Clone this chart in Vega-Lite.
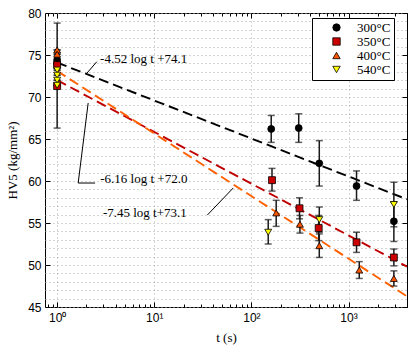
{
  "$schema": "https://vega.github.io/schema/vega-lite/v6.json",
  "width": 362,
  "height": 294,
  "autosize": {"type": "none"},
  "padding": {"left": 45, "top": 13, "right": 8, "bottom": 44},
  "background": "white",
  "config": {
    "view": {"stroke": "black", "strokeWidth": 1},
    "axis": {
      "labelFont": "Liberation Sans",
      "labelFontSize": 12,
      "labelColor": "black",
      "titleFont": "Liberation Serif",
      "titleFontSize": 13,
      "titleFontWeight": "normal",
      "titleColor": "black",
      "domain": false,
      "tickColor": "black",
      "gridColor": "#aaaaaa",
      "gridDash": [1, 3],
      "gridWidth": 1
    }
  },
  "datasets": {
    "pts": [
      {"t": 1, "h": 74.4, "lo": 66.3, "hi": 78.8, "T": "300°C"},
      {"t": 1, "h": 74.0, "lo": 74.0, "hi": 74.0, "T": "300°C"},
      {"t": 160, "h": 66.2, "lo": 64.6, "hi": 67.8, "T": "300°C"},
      {"t": 307, "h": 66.3, "lo": 64.6, "hi": 68.0, "T": "300°C"},
      {"t": 500, "h": 62.1, "lo": 59.4, "hi": 64.8, "T": "300°C"},
      {"t": 1209, "h": 59.4, "lo": 57.7, "hi": 61.2, "T": "300°C"},
      {"t": 2930, "h": 55.2, "lo": 52.8, "hi": 57.5, "T": "300°C"},
      {"t": 1, "h": 73.8, "lo": 73.8, "hi": 73.8, "T": "350°C"},
      {"t": 1, "h": 71.3, "lo": 71.3, "hi": 71.3, "T": "350°C"},
      {"t": 163, "h": 60.1, "lo": 58.8, "hi": 61.5, "T": "350°C"},
      {"t": 313, "h": 56.75, "lo": 55.5, "hi": 58.0, "T": "350°C"},
      {"t": 493, "h": 54.4, "lo": 52.9, "hi": 55.9, "T": "350°C"},
      {"t": 1209, "h": 52.7, "lo": 51.5, "hi": 53.9, "T": "350°C"},
      {"t": 2930, "h": 50.9, "lo": 49.9, "hi": 51.9, "T": "350°C"},
      {"t": 1, "h": 75.6, "lo": 75.6, "hi": 75.6, "T": "400°C"},
      {"t": 1, "h": 75.1, "lo": 75.1, "hi": 75.1, "T": "400°C"},
      {"t": 180, "h": 56.2, "lo": 54.6, "hi": 57.7, "T": "400°C"},
      {"t": 316, "h": 54.85, "lo": 53.8, "hi": 55.9, "T": "400°C"},
      {"t": 500, "h": 52.3, "lo": 50.9, "hi": 53.7, "T": "400°C"},
      {"t": 1290, "h": 49.4, "lo": 48.4, "hi": 50.4, "T": "400°C"},
      {"t": 2930, "h": 48.4, "lo": 47.5, "hi": 49.3, "T": "400°C"},
      {"t": 1, "h": 73.2, "lo": 73.2, "hi": 73.2, "T": "540°C"},
      {"t": 1, "h": 72.6, "lo": 72.6, "hi": 72.6, "T": "540°C"},
      {"t": 1, "h": 72.0, "lo": 72.0, "hi": 72.0, "T": "540°C"},
      {"t": 1, "h": 71.4, "lo": 71.4, "hi": 71.4, "T": "540°C"},
      {"t": 149, "h": 53.9, "lo": 52.5, "hi": 55.4, "T": "540°C"},
      {"t": 500, "h": 55.4, "lo": 53.9, "hi": 56.9, "T": "540°C"},
      {"t": 2930, "h": 57.2, "lo": 54.55, "hi": 59.85, "T": "540°C"}
    ],
    "fits": [
      {"t": 1, "h": 74.1, "fit": "300"},
      {"t": 4000, "h": 57.82, "fit": "300"},
      {"t": 1, "h": 72.0, "fit": "350"},
      {"t": 4000, "h": 49.81, "fit": "350"},
      {"t": 1, "h": 73.1, "fit": "400"},
      {"t": 4000, "h": 46.27, "fit": "400"}
    ],
    "leaders": [
      {"id": "a", "ord": 1, "t": 2.02, "h": 72.82},
      {"id": "a", "ord": 2, "t": 2.56, "h": 74.2},
      {"id": "b", "ord": 1, "t": 2.087, "h": 69.29},
      {"id": "b", "ord": 2, "t": 1.647, "h": 59.76},
      {"id": "b", "ord": 3, "t": 2.46, "h": 59.76},
      {"id": "c", "ord": 1, "t": 35.2, "h": 55.95},
      {"id": "c", "ord": 2, "t": 65.0, "h": 59.17}
    ],
    "notes": [
      {"t": 2.77, "h": 74.49, "label": "-4.52 log t +74.1"},
      {"t": 2.78, "h": 60.2, "label": "-6.16 log t +72.0"},
      {"t": 2.96, "h": 56.15, "label": "-7.45 log t+73.1"}
    ]
  },
  "resolve": {
    "scale": {"color": "independent", "shape": "independent"},
    "axis": {"x": "independent", "y": "independent"}
  },
  "layer": [
    {
      "data": {"name": "fits"},
      "mark": {"type": "line", "strokeDash": [10, 5], "strokeWidth": 1.9, "clip": true},
      "encoding": {
        "x": {
          "field": "t", "type": "quantitative",
          "scale": {"type": "log", "domain": [0.75, 4000], "nice": false},
          "axis": {
            "orient": "bottom",
            "title": "t (s)",
            "titlePadding": 8,
            "values": [0.8, 0.9, 1, 2, 3, 4, 5, 6, 7, 8, 9, 10, 20, 30, 40, 50, 60, 70, 80, 90, 100, 200, 300, 400, 500, 600, 700, 800, 900, 1000, 2000, 3000, 4000],
            "labelExpr": "datum.value == 1 ? '10⁰' : datum.value == 10 ? '10¹' : datum.value == 100 ? '10²' : datum.value == 1000 ? '10³' : ''",
            "grid": true,
            "gridOpacity": {"condition": {"test": "datum.value == 1 || datum.value == 10 || datum.value == 100 || datum.value == 1000", "value": 1}, "value": 0},
            "tickSize": {"condition": {"test": "datum.value == 1 || datum.value == 10 || datum.value == 100 || datum.value == 1000", "value": -5}, "value": -3},
            "labelPadding": 10,
            "labelFlush": false
          }
        },
        "y": {
          "field": "h", "type": "quantitative",
          "scale": {"domain": [45, 80], "nice": false, "zero": false},
          "axis": {
            "orient": "left",
            "title": "HV5 (kg/mm²)",
            "titlePadding": 8,
            "values": [45, 46, 47, 48, 49, 50, 51, 52, 53, 54, 55, 56, 57, 58, 59, 60, 61, 62, 63, 64, 65, 66, 67, 68, 69, 70, 71, 72, 73, 74, 75, 76, 77, 78, 79, 80],
            "labelExpr": "datum.value % 5 == 0 ? datum.label : ''",
            "grid": true,
            "tickSize": {"condition": {"test": "datum.value % 5 == 0", "value": -5}, "value": 0},
            "labelPadding": 9
          }
        },
        "color": {
          "field": "fit", "type": "nominal",
          "scale": {"domain": ["300", "350", "400"], "range": ["#000000", "#c00000", "#ff6000"]},
          "legend": null
        }
      }
    },
    {
      "data": {"name": "pts"},
      "mark": {"type": "rule", "color": "#1a1a1a", "strokeWidth": 1.5},
      "encoding": {
        "x": {
          "field": "t", "type": "quantitative",
          "axis": {
            "orient": "top", "title": null, "labels": false, "grid": false,
            "values": [0.8, 0.9, 1, 2, 3, 4, 5, 6, 7, 8, 9, 10, 20, 30, 40, 50, 60, 70, 80, 90, 100, 200, 300, 400, 500, 600, 700, 800, 900, 1000, 2000, 3000, 4000],
            "tickSize": {"condition": {"test": "datum.value == 1 || datum.value == 10 || datum.value == 100 || datum.value == 1000", "value": -5}, "value": -3}
          }
        },
        "y": {
          "field": "lo", "type": "quantitative",
          "axis": {
            "orient": "right", "title": null, "labels": false, "grid": false,
            "values": [45, 50, 55, 60, 65, 70, 75, 80],
            "tickSize": -5
          }
        },
        "y2": {"field": "hi"}
      }
    },
    {
      "data": {"name": "pts"},
      "mark": {"type": "tick", "orient": "horizontal", "color": "#1a1a1a", "thickness": 1.5, "size": 7},
      "encoding": {
        "x": {"field": "t", "type": "quantitative", "axis": null},
        "y": {"field": "lo", "type": "quantitative", "axis": null}
      }
    },
    {
      "data": {"name": "pts"},
      "mark": {"type": "tick", "orient": "horizontal", "color": "#1a1a1a", "thickness": 1.5, "size": 7},
      "encoding": {
        "x": {"field": "t", "type": "quantitative", "axis": null},
        "y": {"field": "hi", "type": "quantitative", "axis": null}
      }
    },
    {
      "data": {"name": "pts"},
      "mark": {"type": "point", "filled": true, "stroke": "black", "strokeWidth": 0.8, "opacity": 1, "size": 48},
      "encoding": {
        "x": {"field": "t", "type": "quantitative", "axis": null},
        "y": {"field": "h", "type": "quantitative", "axis": null},
        "color": {
          "field": "T", "type": "nominal",
          "scale": {"domain": ["300°C", "350°C", "400°C", "540°C"], "range": ["#000000", "#cc0000", "#ff5500", "#ffff00"]},
          "legend": {
            "title": null,
            "orient": "none",
            "legendX": 267,
            "legendY": 5,
            "strokeColor": "black",
            "fillColor": "white",
            "padding": 3,
            "symbolOffset": 15,
            "labelOffset": 14,
            "labelFont": "Liberation Serif",
            "labelFontSize": 13,
            "labelColor": "black",
            "rowPadding": -1,
            "symbolStrokeColor": "black",
            "symbolStrokeWidth": 0.8,
            "symbolSize": 55
          }
        },
        "shape": {
          "field": "T", "type": "nominal",
          "scale": {"domain": ["300°C", "350°C", "400°C", "540°C"], "range": ["circle", "square", "triangle-up", "triangle-down"]},
          "legend": {
            "title": null,
            "orient": "none",
            "legendX": 267,
            "legendY": 5
          }
        }
      }
    },
    {
      "data": {"name": "leaders"},
      "mark": {"type": "line", "color": "black", "strokeWidth": 1},
      "encoding": {
        "x": {"field": "t", "type": "quantitative", "axis": null},
        "y": {"field": "h", "type": "quantitative", "axis": null},
        "detail": {"field": "id"},
        "order": {"field": "ord", "type": "quantitative"}
      }
    },
    {
      "data": {"name": "notes"},
      "mark": {"type": "text", "align": "left", "baseline": "middle", "font": "Liberation Serif", "fontSize": 13, "color": "black"},
      "encoding": {
        "x": {"field": "t", "type": "quantitative", "axis": null},
        "y": {"field": "h", "type": "quantitative", "axis": null},
        "text": {"field": "label"}
      }
    }
  ]
}
